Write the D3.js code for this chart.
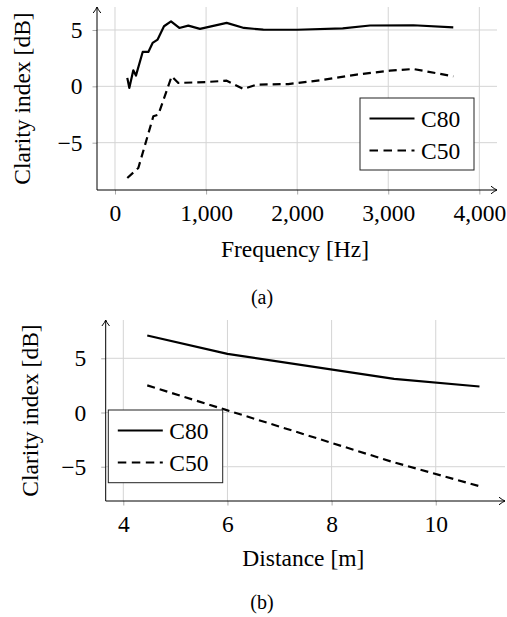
<!DOCTYPE html>
<html>
<head>
<meta charset="utf-8">
<script src="https://cdn.jsdelivr.net/npm/d3@7"></script>
<style>
  body { margin: 0; background: #fff; }
  svg text { font-family: "Liberation Serif", "Times New Roman", Times, "DejaVu Serif", serif; fill: #000; }
</style>
</head>
<body>
<div id="chart"></div>
<script>
// ---- data: panel (a), clarity vs frequency ----
const freqC80 = [135, 157, 201, 230, 304, 366, 413, 468, 538, 615, 706, 805, 933, 1226, 1416, 1628, 2000, 2500, 2800, 3275, 3714];
const c80Freq = [0.75, -0.14, 1.42, 0.95, 3.05, 3.05, 3.85, 4.15, 5.33, 5.77, 5.18, 5.39, 5.1, 5.63, 5.18, 5.03, 5.02, 5.15, 5.4, 5.42, 5.24];
const freqC50 = [135, 256, 421, 476, 622, 695, 1000, 1226, 1409, 1555, 1902, 2250, 2653, 3019, 3275, 3714];
const c50Freq = [-8.14, -7.25, -2.66, -2.51, 0.89, 0.3, 0.38, 0.5, -0.23, 0.15, 0.2, 0.53, 1.04, 1.39, 1.54, 0.89];
const freqTicks = [0, 1000, 2000, 3000, 4000];

// ---- data: panel (b), clarity vs distance ----
const distance = [4.46, 6.0, 9.2, 10.84];
const c80Dist = [7.1, 5.4, 3.1, 2.4];
const c50Dist = [2.5, 0.2, -4.6, -6.8];
const distTicks = [4, 6, 8, 10];

const clarityTicks = [-5, 0, 5];
const seriesNames = ["C80", "C50"];

const W = 507, H = 617;
const FONT = 23.5;
const SERIF = "'Liberation Serif', 'Times New Roman', Times, 'DejaVu Serif', serif";

const svg = d3.select("#chart").append("svg")
  .attr("width", W).attr("height", H);

svg.append("defs").append("marker")
  .attr("id", "arrow")
  .attr("viewBox", "-8 -5 10 10")
  .attr("refX", 0).attr("refY", 0)
  .attr("markerWidth", 10).attr("markerHeight", 10)
  .attr("markerUnits", "userSpaceOnUse")
  .attr("orient", "auto")
  .append("path")
  .attr("d", "M-6,-3.8 Q-2.5,-1 0,0 Q-2.5,1 -6,3.8")
  .attr("fill", "none")
  .attr("stroke", "#000")
  .attr("stroke-width", 1);

function drawPanel(cfg) {
  const g = svg.append("g");
  const x = d3.scaleLinear().domain(cfg.xDomain).range([cfg.left, cfg.right]);
  const y = d3.scaleLinear().domain(cfg.yDomain).range([cfg.bottom, cfg.top]);

  // grid
  g.append("g").selectAll("line").data(cfg.xTicks).join("line")
    .attr("x1", d => x(d)).attr("x2", d => x(d))
    .attr("y1", cfg.top).attr("y2", cfg.bottom)
    .attr("stroke", "#d4d4d4").attr("stroke-width", 1);
  g.append("g").selectAll("line").data(clarityTicks).join("line")
    .attr("x1", cfg.left).attr("x2", cfg.right)
    .attr("y1", d => y(d)).attr("y2", d => y(d))
    .attr("stroke", "#d4d4d4").attr("stroke-width", 1);

  // axes (ticks + labels)
  const xAxis = g.append("g")
    .attr("transform", `translate(0,${cfg.bottom})`)
    .call(d3.axisBottom(x).tickValues(cfg.xTicks).tickSize(4.5).tickPadding(10)
      .tickFormat(cfg.xFormat));
  const yAxis = g.append("g")
    .attr("transform", `translate(${cfg.left},0)`)
    .call(d3.axisLeft(y).tickValues(clarityTicks).tickSize(4.5).tickPadding(cfg.yPad)
      .tickFormat(d => d < 0 ? "\u2212" + Math.abs(d) : d));
  [xAxis, yAxis].forEach(a => {
    a.attr("font-family", null);
    a.select(".domain").remove();
    a.selectAll(".tick line").attr("stroke", "#aaa");
    a.selectAll(".tick text").style("font-size", FONT + "px")
      .style("font-family", SERIF).attr("fill", "#000");
  });

  // axis lines with arrows
  g.append("line")
    .attr("x1", cfg.left).attr("x2", cfg.right)
    .attr("y1", cfg.bottom).attr("y2", cfg.bottom)
    .attr("stroke", "#000").attr("stroke-width", 1)
    .attr("marker-end", "url(#arrow)");
  g.append("line")
    .attr("x1", cfg.left).attr("x2", cfg.left)
    .attr("y1", cfg.bottom).attr("y2", cfg.top)
    .attr("stroke", "#000").attr("stroke-width", 1)
    .attr("marker-end", "url(#arrow)");

  // series
  const line = d3.line().x(d => x(d[0])).y(d => y(d[1]));
  cfg.series.forEach((s, i) => {
    g.append("path")
      .datum(d3.zip(s.x, s.y))
      .attr("fill", "none")
      .attr("stroke", "#000")
      .attr("stroke-width", 2.2)
      .attr("stroke-linejoin", "round")
      .attr("stroke-dasharray", i === 1 ? "8,5" : null)
      .attr("d", line);
  });

  // legend
  const lg = g.append("g").attr("transform", `translate(${cfg.legend[0]},${cfg.legend[1]})`);
  lg.append("rect")
    .attr("width", cfg.legend[2]).attr("height", cfg.legend[3])
    .attr("fill", "#fff").attr("stroke", "#222").attr("stroke-width", 1);
  seriesNames.forEach((name, i) => {
    const yy = 20.5 + i * 32;
    lg.append("line")
      .attr("x1", 9.5).attr("x2", 54.5).attr("y1", yy).attr("y2", yy)
      .attr("stroke", "#000").attr("stroke-width", 2.2)
      .attr("stroke-dasharray", i === 1 ? "8.5,5.5" : null);
    lg.append("text")
      .attr("x", 61).attr("y", yy)
      .attr("dy", "0.35em")
      .style("font-size", FONT + "px")
      .style("font-family", SERIF)
      .text(name);
  });

  // labels
  g.append("text")
    .attr("x", (cfg.left + cfg.right) / 2 - 2)
    .attr("y", cfg.xLabelY)
    .attr("text-anchor", "middle")
    .style("font-size", FONT + "px")
    .style("font-family", SERIF)
    .text(cfg.xLabel);
  g.append("text")
    .attr("transform", `translate(${cfg.yLabelX},${(cfg.top + cfg.bottom) / 2}) rotate(-90)`)
    .attr("text-anchor", "middle")
    .style("font-size", FONT + "px")
    .style("font-family", SERIF)
    .text("Clarity index [dB]");
  g.append("text")
    .attr("x", 262).attr("y", cfg.captionY)
    .attr("text-anchor", "middle")
    .style("font-size", "20px")
    .style("font-family", SERIF)
    .text(cfg.caption);
}

drawPanel({
  left: 97, right: 497, top: 7, bottom: 190,
  xDomain: [-197.6, 4194], yDomain: [-9.2, 7.04],
  xTicks: freqTicks, xFormat: d3.format(","), yPad: 10,
  series: [{ x: freqC80, y: c80Freq }, { x: freqC50, y: c50Freq }],
  legend: [360, 98, 114, 72],
  xLabel: "Frequency [Hz]", xLabelY: 257, yLabelX: 30,
  caption: "(a)", captionY: 304
});

drawPanel({
  left: 105.7, right: 505, top: 320, bottom: 501,
  xDomain: [3.662, 11.33], yDomain: [-8.16, 8.53],
  xTicks: distTicks, xFormat: d3.format("d"), yPad: 15,
  series: [{ x: distance, y: c80Dist }, { x: distance, y: c50Dist }],
  legend: [108.3, 410, 114.4, 72.7],
  xLabel: "Distance [m]", xLabelY: 566, yLabelX: 38,
  caption: "(b)", captionY: 609
});
</script>
</body>
</html>
